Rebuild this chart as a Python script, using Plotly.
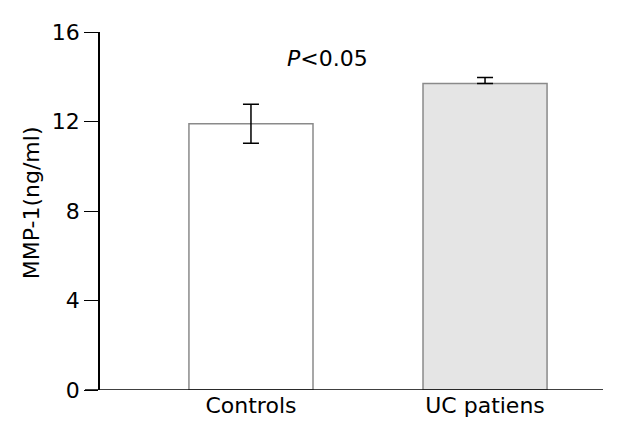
import plotly.graph_objects as go

groups = ["Controls", "UC patiens"]
mmp1 = [11.9, 13.7]
err_plus = [0.87, 0.27]
err_minus = [0.87, 0.0]
bar_colors = ["#ffffff", "#e5e5e5"]
y_ticks = [0, 4, 8, 12, 16]

FONT = "DejaVu Sans"

fig = go.Figure()

fig.add_trace(
    go.Bar(
        x=groups,
        y=mmp1,
        width=0.53,
        marker=dict(color=bar_colors, line=dict(color="#8a8a8a", width=1.5)),
        error_y=dict(
            type="data",
            symmetric=False,
            array=err_plus,
            arrayminus=err_minus,
            color="black",
            thickness=1.5,
            width=8,
        ),
        showlegend=False,
        hoverinfo="x+y",
    )
)

# x axis line reaching left past the y axis, as in the original
fig.add_shape(
    type="line",
    xref="paper",
    yref="y",
    x0=-15 / 503,
    x1=1,
    y0=0,
    y1=0,
    line=dict(color="black", width=1.5),
)

fig.add_annotation(
    x=0.325,
    y=14.8,
    xref="x",
    yref="y",
    text="<i>P</i>&lt;0.05",
    showarrow=False,
    font=dict(family=FONT, size=22, color="black"),
)

fig.add_annotation(
    x=-0.137,
    y=0.522,
    xref="paper",
    yref="paper",
    xanchor="center",
    yanchor="middle",
    text="MMP-1(ng/ml)",
    textangle=-90,
    showarrow=False,
    font=dict(family=FONT, size=22, color="black"),
)

# page body has an 8px margin, so the figure is shrunk and shifted to fit
fig.update_layout(
    width=623,
    height=426,
    margin=dict(l=92, r=28, t=24, b=44),
    paper_bgcolor="white",
    plot_bgcolor="white",
    font=dict(family=FONT, size=20, color="black"),
    xaxis=dict(
        range=[-0.645, 1.504],
        showline=False,
        showgrid=False,
        zeroline=False,
        ticks="",
        tickfont=dict(size=22),
    ),
    yaxis=dict(
        range=[0, 16],
        tickvals=y_ticks,
        showline=True,
        linecolor="black",
        linewidth=1.5,
        ticks="outside",
        ticklen=14,
        tickwidth=1,
        tickcolor="black",
        showgrid=False,
        zeroline=False,
        tickfont=dict(size=22),
    ),
)

fig.write_html("out.html")
